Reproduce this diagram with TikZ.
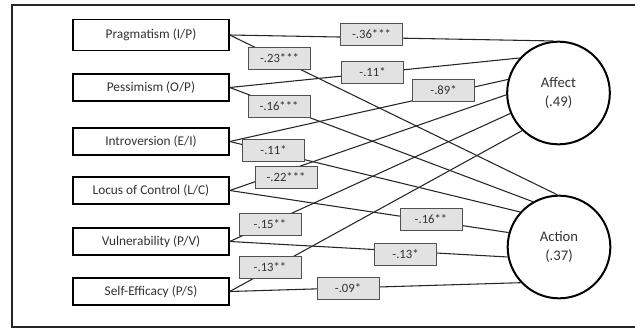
\documentclass[tikz,border=0pt]{standalone}
\usepackage{fontspec}
\setmainfont{Carlito}
\definecolor{txt}{HTML}{333333}
\definecolor{coeffill}{HTML}{E2E2E2}
\definecolor{coefline}{HTML}{505050}
\definecolor{linkc}{HTML}{262626}
\begin{document}
\begin{tikzpicture}[x=0.75pt,y=-0.75pt,
  factor/.style={draw=black,line width=1.1pt,fill=white,minimum width=117pt,
    minimum height=20.25pt,inner sep=0pt,font=\fontsize{10}{12}\selectfont,text=txt},
  coef/.style={draw=coefline,line width=0.7pt,fill=coeffill,minimum width=46.5pt,
    minimum height=16.5pt,inner sep=0pt,font=\fontsize{9.5}{11}\selectfont,text=txt},
  outcome/.style={circle,draw=black,line width=1.5pt,fill=white,minimum size=77pt,
    inner sep=0pt,align=center,font=\fontsize{11}{14}\selectfont,text=txt},
  link/.style={draw=linkc,line width=0.8pt}]
\useasboundingbox (0,0) rectangle (635,328);
\clip (0,0) rectangle (635,328);
% outer frame (open to the right edge)
\draw[line width=1pt,black!85] (12,5) rectangle (660,327);

% predictors
\node[factor,minimum height=23.25pt] (prag) at (151,35) {Pragmatism (I/P)};
\node[factor] (pess)  at (151,87.5)  {Pessimism (O/P)};
\node[factor] (intro) at (151,141.5) {Introversion (E/I)};
\node[factor] (locus) at (151,190.5) {Locus of Control (L/C)};
\node[factor] (vuln)  at (151,241.5) {Vulnerability (P/V)};
\node[factor] (self)  at (151,291.5) {Self-Efficacy (P/S)};

% outcomes
\node[outcome] (affect) at (558.5,93) {Affect\\(.49)};
\node[outcome] (action) at (559,247) {Action\\(.37)};

% paths to Affect
\draw[link] (prag.east)  -- (affect.96);
\draw[link] (pess.east)  -- (affect.138);
\draw[link] (intro.east) -- (affect.165);
\draw[link] (locus.east) -- (affect.182);
\draw[link] (vuln.east)  -- (affect.203);
\draw[link] (self.east)  -- (affect.226);
% paths to Action
\draw[link] (prag.east)  -- (action.92);
\draw[link] (pess.east)  -- (action.120);
\draw[link] (intro.east) -- (action.138);
\draw[link] (locus.east) -- (action.164);
\draw[link] (vuln.east)  -- (action.191);
\draw[link] (self.east)  -- (action.223);

% path coefficients
\node[coef] (c36) at (371.5,34)  {-.36***};
\node[coef] (c23) at (279.5,58)  {-.23***};
\node[coef] (c11a) at (372.5,72) {-.11*};
\node[coef] (c16a) at (279,106.5) {-.16***};
\node[coef] (c89) at (443.5,90)  {-.89*};
\node[coef] (c11b) at (273.5,150) {-.11*};
\node[coef] (c22) at (286,177)   {-.22***};
\node[coef] (c16b) at (431,219)  {-.16**};
\node[coef] (c15) at (270,224.5) {-.15**};
\node[coef] (c13a) at (405.5,254) {-.13*};
\node[coef] (c13b) at (270,267)  {-.13**};
\node[coef] (c09) at (348,288)   {-.09*};
\end{tikzpicture}
\end{document}
